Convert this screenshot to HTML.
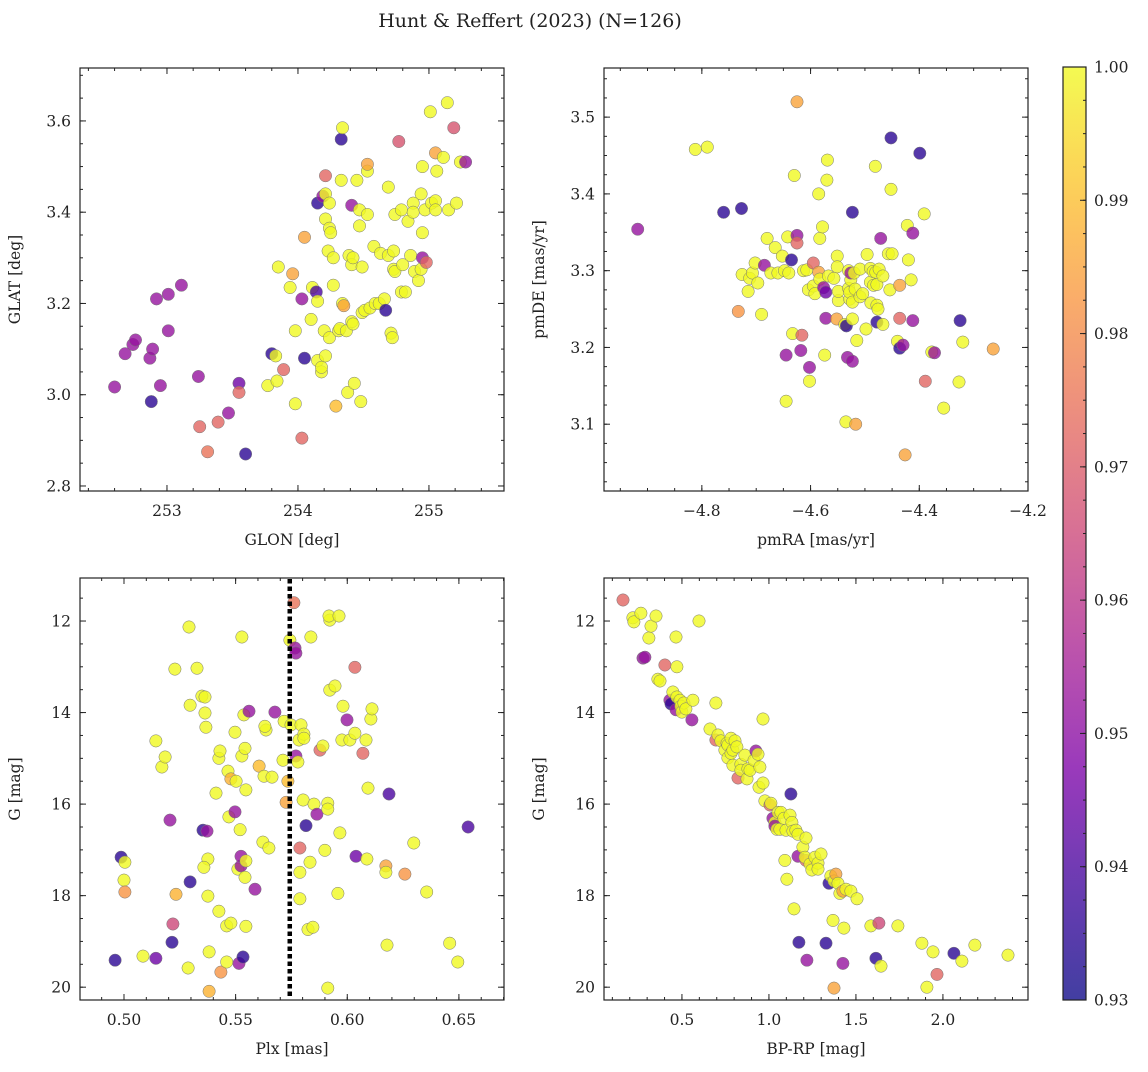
<!DOCTYPE html>
<html><head><meta charset="utf-8"><style>
body{margin:0;background:#fff}
svg text{font-family:"DejaVu Serif","Liberation Serif",serif;fill:#222}
</style></head><body>
<svg id="fig" width="1148" height="1067" xmlns="http://www.w3.org/2000/svg">
<text x="530" y="27" text-anchor="middle" font-size="19">Hunt &amp; Reffert (2023) (N=126)</text>
</svg>
<script>
// Panel data: [x, y, colorValue]
const skyPts=[[252.60,3.017,.952],[252.68,3.09,.952],[252.74,3.11,.952],[252.76,3.12,.952],[252.87,3.08,.952],[252.89,3.10,.952],[252.92,3.21,.952],[253.01,3.22,.952],[253.11,3.24,.952],[253.01,3.14,.952],[252.95,3.02,.952],[252.88,2.985,.935],[253.24,3.04,.952],[253.47,2.96,.952],[253.55,3.025,.945],[253.60,2.87,.935],[253.39,2.94,.972],[253.25,2.93,.972],[253.31,2.875,.975],[253.55,3.005,.972],
[253.80,3.09,.935],[253.85,3.28,1],[253.83,3.085,1],[253.77,3.02,1],[253.84,3.03,1],[253.89,3.055,.972],[253.96,3.265,.985],[253.94,3.235,1],[253.98,3.14,1],[253.98,2.98,1],[254.03,2.905,.972],[254.03,3.21,.952],[254.05,3.345,.985],[254.05,3.08,.935],[254.11,3.235,1],[254.14,3.225,.94],[254.15,3.205,1],[254.10,3.165,1],[254.15,3.075,1],[254.18,3.05,1],[254.18,3.06,1],[254.20,3.14,1],[254.21,3.085,1],[254.24,3.125,1],[254.15,3.42,.935],[254.19,3.435,.952],[254.21,3.48,.972],[254.21,3.44,1],[254.24,3.42,1],[254.21,3.385,1],[254.24,3.365,1],[254.25,3.355,1],[254.23,3.315,1],[254.27,3.30,1],[254.27,3.24,1],[254.31,3.14,1],[254.32,3.145,1],[254.37,3.14,1],[254.34,3.20,1],[254.29,2.975,.99],[254.33,3.56,.935],[254.34,3.585,1],[254.33,3.47,1],[254.41,3.415,.952],[254.39,3.305,1],[254.35,3.195,.985],[254.41,3.285,1],[254.42,3.30,1],[254.41,3.16,1],[254.42,3.155,1],[254.38,3.005,1],[254.43,3.025,1],[254.48,2.985,1],[254.45,3.47,1],[254.47,3.405,1],[254.47,3.37,1],[254.49,3.28,1],[254.49,3.18,1],[254.53,3.49,1],[254.53,3.505,.985],[254.53,3.395,1],[254.51,3.185,1],[254.55,3.19,1],[254.58,3.325,1],[254.59,3.20,1],[254.63,3.31,1],[254.62,3.20,1],[254.66,3.21,1],[254.69,3.455,1],[254.69,3.305,1],[254.67,3.185,.935],[254.71,3.135,1],[254.72,3.125,1],[254.73,3.275,1],[254.74,3.27,1],[254.73,3.315,1],[254.74,3.395,1],[254.77,3.555,.968],[254.79,3.405,1],[254.80,3.285,1],[254.79,3.225,1],[254.82,3.225,1],[254.84,3.38,1],[254.86,3.305,1],[254.88,3.42,1],[254.88,3.40,1],[254.89,3.27,1],[254.92,3.25,1],[254.94,3.275,1],[254.95,3.355,1],[254.95,3.30,.952],[254.98,3.29,.972],[254.95,3.50,1],[254.94,3.44,1],[255.01,3.62,1],[254.97,3.405,1],[255.02,3.42,1],[255.05,3.53,.985],[255.06,3.49,1],[255.05,3.425,1],[255.05,3.405,1],[255.11,3.52,1],[255.14,3.64,1],[255.15,3.405,1],[255.21,3.42,1],[255.19,3.585,.968],[255.24,3.51,1],[255.28,3.51,.952]];
const pmPts=[[-4.918,3.354,.952],[-4.812,3.458,1],[-4.79,3.461,1],[-4.76,3.376,.935],[-4.727,3.381,.935],[-4.733,3.247,.982],[-4.726,3.295,1],[-4.715,3.273,1],[-4.712,3.29,1],[-4.707,3.297,1],[-4.702,3.31,1],[-4.697,3.284,1],[-4.69,3.243,1],[-4.685,3.307,.952],[-4.68,3.342,1],[-4.673,3.297,1],[-4.665,3.33,1],[-4.66,3.297,1],[-4.652,3.319,1],[-4.648,3.30,1],[-4.645,3.19,.952],[-4.645,3.13,1],[-4.642,3.344,1],[-4.64,3.297,1],[-4.635,3.314,.935],[-4.63,3.424,1],[-4.633,3.218,1],[-4.625,3.346,.952],[-4.625,3.336,.972],[-4.625,3.52,.985],[-4.618,3.196,.952],[-4.616,3.216,.972],[-4.613,3.30,1],[-4.607,3.301,1],[-4.602,3.174,.952],[-4.602,3.156,1],[-4.604,3.275,1],[-4.595,3.31,.972],[-4.595,3.28,1],[-4.592,3.27,1],[-4.585,3.298,.985],[-4.583,3.342,1],[-4.585,3.40,1],[-4.583,3.289,1],[-4.578,3.357,1],[-4.576,3.278,.952],[-4.572,3.238,.952],[-4.572,3.272,.945],[-4.569,3.444,1],[-4.574,3.19,1],[-4.57,3.418,1],[-4.567,3.293,1],[-4.552,3.237,.985],[-4.557,3.29,1],[-4.549,3.261,1],[-4.549,3.273,1],[-4.551,3.319,1],[-4.551,3.305,1],[-4.537,3.23,1],[-4.532,3.187,.952],[-4.534,3.228,.935],[-4.53,3.30,1],[-4.528,3.263,1],[-4.53,3.277,1],[-4.528,3.272,1],[-4.526,3.288,1],[-4.523,3.182,.952],[-4.523,3.376,.935],[-4.523,3.237,1],[-4.523,3.259,1],[-4.526,3.297,.952],[-4.52,3.297,1],[-4.518,3.276,1],[-4.535,3.103,1],[-4.517,3.10,.985],[-4.515,3.209,1],[-4.509,3.302,1],[-4.509,3.266,1],[-4.504,3.27,1],[-4.496,3.321,1],[-4.498,3.224,1],[-4.49,3.285,1],[-4.49,3.303,1],[-4.489,3.258,1],[-4.485,3.299,1],[-4.484,3.281,1],[-4.481,3.436,1],[-4.478,3.233,.935],[-4.48,3.298,1],[-4.478,3.282,1],[-4.478,3.255,1],[-4.474,3.302,1],[-4.476,3.25,1],[-4.471,3.342,.952],[-4.467,3.23,1],[-4.467,3.293,1],[-4.457,3.322,1],[-4.454,3.275,1],[-4.452,3.406,1],[-4.45,3.322,1],[-4.452,3.473,.935],[-4.44,3.208,1],[-4.436,3.281,.985],[-4.436,3.199,.935],[-4.43,3.203,.952],[-4.436,3.238,.972],[-4.426,3.06,.985],[-4.422,3.359,1],[-4.42,3.314,1],[-4.415,3.288,1],[-4.412,3.235,.952],[-4.412,3.349,.952],[-4.399,3.453,.935],[-4.391,3.374,1],[-4.389,3.156,.972],[-4.377,3.194,1],[-4.372,3.193,.952],[-4.355,3.121,1],[-4.327,3.155,1],[-4.325,3.235,.935],[-4.32,3.207,1],[-4.264,3.198,.985]];
const plxPts=[[0.496,19.41,.935],[0.4987,17.16,.935],[0.5004,17.27,1],[0.5,17.66,1],[0.5004,17.92,.982],[0.5085,19.32,1],[0.5143,19.37,.945],[0.5143,14.62,1],[0.517,15.19,1],[0.5184,14.97,1],[0.5206,16.35,.952],[0.5219,18.62,.965],[0.5215,19.02,.935],[0.5228,13.05,1],[0.5233,17.97,.988],[0.5287,19.58,1],[0.5296,17.70,.935],[0.5296,13.84,1],[0.5291,12.13,1],[0.5327,13.03,1],[0.5349,13.64,1],[0.5354,16.57,.935],[0.5363,13.66,1],[0.5363,14.01,1],[0.5367,14.32,1],[0.5372,16.59,.952],[0.5376,17.2,1],[0.5381,19.23,1],[0.5376,18.01,1],[0.5381,20.09,.988],[0.5358,17.38,1],[0.5412,15.76,1],[0.5425,15.0,1],[0.543,14.84,1],[0.5425,18.34,1],[0.5434,19.67,.982],[0.546,19.45,1],[0.546,18.66,1],[0.5466,15.28,1],[0.547,16.28,1],[0.5479,15.45,.988],[0.5479,18.6,1],[0.5497,14.43,1],[0.5497,16.17,.952],[0.5502,15.5,1],[0.551,17.42,1],[0.5515,19.48,.952],[0.552,16.56,1],[0.5533,19.34,.935],[0.5524,17.35,.952],[0.5524,17.14,.952],[0.5528,14.95,1],[0.5537,14.05,1],[0.5542,14.78,1],[0.5546,15.69,1],[0.5546,17.24,1],[0.5542,17.6,1],[0.5546,18.67,1],[0.556,13.97,.952],[0.5528,12.35,1],[0.5587,17.86,.952],[0.5605,15.17,.99],[0.5622,16.83,1],[0.5636,14.38,1],[0.5627,15.39,1],[0.5631,14.3,1],[0.5649,16.96,1],[0.5663,15.41,1],[0.5676,13.99,.952],[0.5712,15.04,1],[0.5717,14.19,1],[0.5726,15.96,.985],[0.5734,15.5,.99],[0.5743,12.42,1],[0.5748,14.27,1],[0.5761,11.6,.975],[0.5766,12.59,.952],[0.577,12.7,.952],[0.5784,14.6,1],[0.577,14.95,.952],[0.5779,15.08,1],[0.5793,14.27,1],[0.5802,15.91,1],[0.5806,14.47,1],[0.5806,14.56,1],[0.5788,16.96,.972],[0.5788,17.49,1],[0.5788,18.07,1],[0.5815,16.47,.935],[0.5824,18.74,1],[0.5833,17.27,1],[0.5846,18.69,1],[0.5837,12.35,1],[0.5851,16.0,1],[0.5864,16.22,.952],[0.5878,14.82,.972],[0.5891,14.73,1],[0.59,17.01,1],[0.5913,15.98,1],[0.5913,16.11,1],[0.5913,20.02,1],[0.5922,11.98,1],[0.5918,11.89,1],[0.5922,13.51,1],[0.5945,13.42,1],[0.5963,11.89,1],[0.5958,17.95,1],[0.5967,16.63,1],[0.5976,14.6,1],[0.5981,13.86,1],[0.5999,14.16,.952],[0.6012,14.6,1],[0.6034,13.01,.972],[0.6039,17.14,.945],[0.6034,14.45,1],[0.607,14.89,.972],[0.6084,14.6,1],[0.6088,17.2,1],[0.6093,15.65,1],[0.6106,14.14,1],[0.6111,13.92,1],[0.6187,15.78,.94],[0.6173,17.35,.985],[0.6173,17.49,1],[0.6178,19.08,1],[0.6258,17.53,.982],[0.6298,16.85,1],[0.6356,17.92,1],[0.6459,19.04,1],[0.6495,19.45,1],[0.6541,16.5,.94]];
const cmdPts=[[0.161,11.54,.972],[0.218,11.93,1],[0.224,12.02,1],[0.264,11.83,1],[0.276,12.81,.952],[0.287,12.79,.952],[0.31,12.37,1],[0.322,12.11,1],[0.351,11.89,1],[0.362,13.27,1],[0.374,13.31,1],[0.402,12.96,.972],[0.431,13.73,.952],[0.437,13.81,.935],[0.448,13.55,1],[0.466,13.94,.952],[0.471,13.66,1],[0.471,13.0,1],[0.466,12.35,1],[0.489,13.73,1],[0.494,13.86,1],[0.5,13.99,1],[0.511,13.79,1],[0.523,13.92,1],[0.557,14.16,.952],[0.598,12.0,1],[0.563,13.73,1],[0.661,14.36,1],[0.695,13.79,1],[0.695,14.6,.972],[0.707,14.49,1],[0.724,14.62,1],[0.747,14.82,1],[0.759,14.67,1],[0.764,14.99,1],[0.764,14.71,1],[0.782,14.56,1],[0.782,14.89,1],[0.793,14.82,1],[0.793,15.15,1],[0.805,14.62,1],[0.816,14.75,1],[0.822,15.43,.972],[0.839,15.13,1],[0.839,15.26,1],[0.862,14.93,1],[0.874,15.45,1],[0.879,15.23,1],[0.891,15.26,1],[0.914,15.04,1],[0.925,14.84,.952],[0.937,14.91,1],[0.948,15.19,1],[0.966,14.14,1],[0.943,15.63,1],[0.966,15.54,1],[0.977,15.93,1],[1.006,16.02,.972],[1.011,15.98,1],[1.023,16.31,.952],[1.034,16.4,1],[1.034,16.48,.952],[1.046,16.55,1],[1.052,16.18,1],[1.063,16.55,1],[1.069,16.18,1],[1.086,16.31,1],[1.092,17.23,1],[1.098,16.57,1],[1.103,17.64,1],[1.121,16.24,1],[1.126,15.78,.935],[1.132,16.4,1],[1.138,16.59,1],[1.144,18.29,1],[1.155,16.57,1],[1.167,16.66,1],[1.167,17.14,.952],[1.172,19.02,.935],[1.195,16.94,1],[1.213,16.74,1],[1.213,17.23,.972],[1.207,17.16,1],[1.218,19.41,.952],[1.236,17.31,1],[1.247,17.44,1],[1.264,17.16,1],[1.282,17.29,1],[1.282,17.42,1],[1.299,17.09,1],[1.328,19.04,.935],[1.345,17.73,.935],[1.356,17.57,1],[1.368,18.54,1],[1.374,20.02,.985],[1.374,17.68,1],[1.385,17.53,.985],[1.397,17.73,1],[1.408,17.95,1],[1.425,19.48,.952],[1.425,17.9,.985],[1.431,18.71,1],[1.443,17.86,1],[1.471,17.9,1],[1.506,18.07,1],[1.586,18.66,1],[1.615,19.37,.935],[1.632,18.6,.965],[1.644,19.54,1],[1.741,18.66,1],[1.879,19.04,1],[1.908,20.0,1],[1.943,19.23,1],[1.966,19.72,.972],[2.063,19.26,.935],[2.109,19.43,1],[2.184,19.08,1],[2.374,19.3,1]];
const plxLine=0.5738;
const glonTicks=[253,254,255], glatTicks=[2.8,3.0,3.2,3.4,3.6];
const pmraTicks=[-4.8,-4.6,-4.4,-4.2], pmdeTicks=[3.1,3.2,3.3,3.4,3.5];
const plxTicks=[0.50,0.55,0.60,0.65], gTicks=[12,14,16,18,20];
const bprpTicks=[0.5,1.0,1.5,2.0], cbarTicks=[0.93,0.94,0.95,0.96,0.97,0.98,0.99,1.00];

const NS="http://www.w3.org/2000/svg";
const svg=document.getElementById('fig');
function mk(tag,attrs,parent){const e=document.createElementNS(NS,tag);for(const k in attrs)e.setAttribute(k,attrs[k]);(parent||svg).appendChild(e);return e;}
const stops=[[0,[13,8,135]],[0.125,[65,4,157]],[0.25,[126,3,168]],[0.375,[170,35,149]],[0.5,[204,71,120]],[0.625,[230,108,92]],[0.75,[248,149,64]],[0.875,[253,195,40]],[1,[240,249,33]]];
function plasma(t){t=Math.max(0,Math.min(1,t));for(let i=1;i<stops.length;i++){if(t<=stops[i][0]){const a=stops[i-1],b=stops[i];const f=(t-a[0])/(b[0]-a[0]);const c=a[1].map((v,j)=>Math.round(v+(b[1][j]-v)*f));return `rgb(${c})`;}}return 'rgb(240,249,33)';}
const cmin=0.93,cmax=1.0;
function fmt(v,d){return (v<0?'−':'')+Math.abs(v).toFixed(d);}

function panel(name,L,T,W,H,xr,yr,xt,yt,xd,yd,xminor,yminor,xl,yl,pts,invert){
  const g=mk('g',{});
  
  
  const sx=v=>L+(v-xr[0])/(xr[1]-xr[0])*W;
  const sy=invert?(v=>T+(v-yr[0])/(yr[1]-yr[0])*H):(v=>T+H-(v-yr[0])/(yr[1]-yr[0])*H);
  pts.forEach(p=>{const c=mk('circle',{cx:sx(p[0]).toFixed(1),cy:sy(p[1]).toFixed(1),r:6.2,fill:plasma((p[2]-cmin)/(cmax-cmin)),'fill-opacity':0.8,stroke:'#777','stroke-width':0.5},g);
    
    });
  const fr=mk('rect',{x:L,y:T,width:W,height:H,fill:'none',stroke:'#222','stroke-width':1.2},g);
  
  
  const lo=Math.min(xr[0],xr[1]),hi=Math.max(xr[0],xr[1]);
  for(let v=Math.ceil(lo/xminor-1e-6)*xminor;v<=hi+1e-9;v+=xminor){const x=sx(v);mk('line',{x1:x,x2:x,y1:T+H,y2:T+H-3,stroke:'#222'},g);mk('line',{x1:x,x2:x,y1:T,y2:T+3,stroke:'#222'},g);}
  const ylo=Math.min(yr[0],yr[1]),yhi=Math.max(yr[0],yr[1]);
  for(let v=Math.ceil(ylo/yminor-1e-6)*yminor;v<=yhi+1e-9;v+=yminor){const y=sy(v);mk('line',{x1:L,x2:L+3,y1:y,y2:y,stroke:'#222'},g);mk('line',{x1:L+W,x2:L+W-3,y1:y,y2:y,stroke:'#222'},g);}
  xt.forEach(v=>{const x=sx(v);mk('line',{x1:x,x2:x,y1:T+H,y2:T+H-6,stroke:'#222'},g);mk('line',{x1:x,x2:x,y1:T,y2:T+6,stroke:'#222'},g);
    const t=mk('text',{x:x,y:T+H+25,'text-anchor':'middle','font-size':15.5},g);t.textContent=fmt(v,xd);
    
    });
  yt.forEach(v=>{const y=sy(v);mk('line',{x1:L,x2:L+6,y1:y,y2:y,stroke:'#222'},g);mk('line',{x1:L+W,x2:L+W-6,y1:y,y2:y,stroke:'#222'},g);
    const t=mk('text',{x:L-9,y:y+5.5,'text-anchor':'end','font-size':15.5},g);t.textContent=fmt(v,yd);
    
    });
  const xt2=mk('text',{x:L+W/2,y:T+H+54,'text-anchor':'middle','font-size':15.5},g);xt2.textContent=xl;
  
  
  const yt2=mk('text',{x:0,y:0,'text-anchor':'middle','font-size':15.5,transform:`translate(${L-60},${T+H/2}) rotate(-90)`},g);yt2.textContent=yl;
  
  
  return {sx,sy,g};
}
panel('sky-position-panel',80,68,424,423,[252.336,255.573],[2.789,3.716],glonTicks,glatTicks,0,1,0.2,0.05,'GLON [deg]','GLAT [deg]',skyPts,false);
panel('proper-motion-panel',604,68,424,423,[-4.980,-4.2],[3.013,3.564],pmraTicks,pmdeTicks,1,1,0.05,0.025,'pmRA [mas/yr]','pmDE [mas/yr]',pmPts,false);
const pb=panel('parallax-panel',80,578,424,422,[0.4803,0.6702],[11.06,20.28],plxTicks,gTicks,2,0,0.01,0.5,'Plx [mas]','G [mag]',plxPts,true);
const ln=mk('line',{x1:pb.sx(plxLine)+1,x2:pb.sx(plxLine)+1,y1:579,y2:999,stroke:'#000','stroke-width':4.5,'stroke-dasharray':'4.5,3'},pb.g);


panel('cmd-panel',604,578,424,422,[0.052,2.489],[11.06,20.28],bprpTicks,gTicks,1,0,0.1,0.5,'BP-RP [mag]','G [mag]',cmdPts,true);

// colorbar
const cb=mk('g',{});


const defs=mk('defs',{},cb);const lg=mk('linearGradient',{id:'cg',x1:0,y1:1,x2:0,y2:0},defs);
for(let i=0;i<=20;i++){mk('stop',{offset:i/20,'stop-color':plasma(i/20)},lg);}
const cT=67,cB=1000,cL=1063,cW=23;
mk('rect',{x:cL,y:cT,width:cW,height:cB-cT,fill:'url(#cg)','fill-opacity':0.78},cb);
mk('rect',{x:cL,y:cT,width:cW,height:cB-cT,fill:'none',stroke:'#222','stroke-width':1.2},cb);
const cy=v=>cB-(v-cmin)/(cmax-cmin)*(cB-cT);
for(let v=cmin;v<=cmax+1e-9;v+=0.0025){mk('line',{x1:cL+cW,x2:cL+cW-3,y1:cy(v),y2:cy(v),stroke:'#222'},cb);}
cbarTicks.forEach(v=>{const y=cy(v);mk('line',{x1:cL+cW,x2:cL+cW-6,y1:y,y2:y,stroke:'#222'},cb);
  const t=mk('text',{x:cL+cW+8,y:y+5.5,'font-size':15.5},cb);t.textContent=v.toFixed(2);
  
  });
</script>
</body></html>
